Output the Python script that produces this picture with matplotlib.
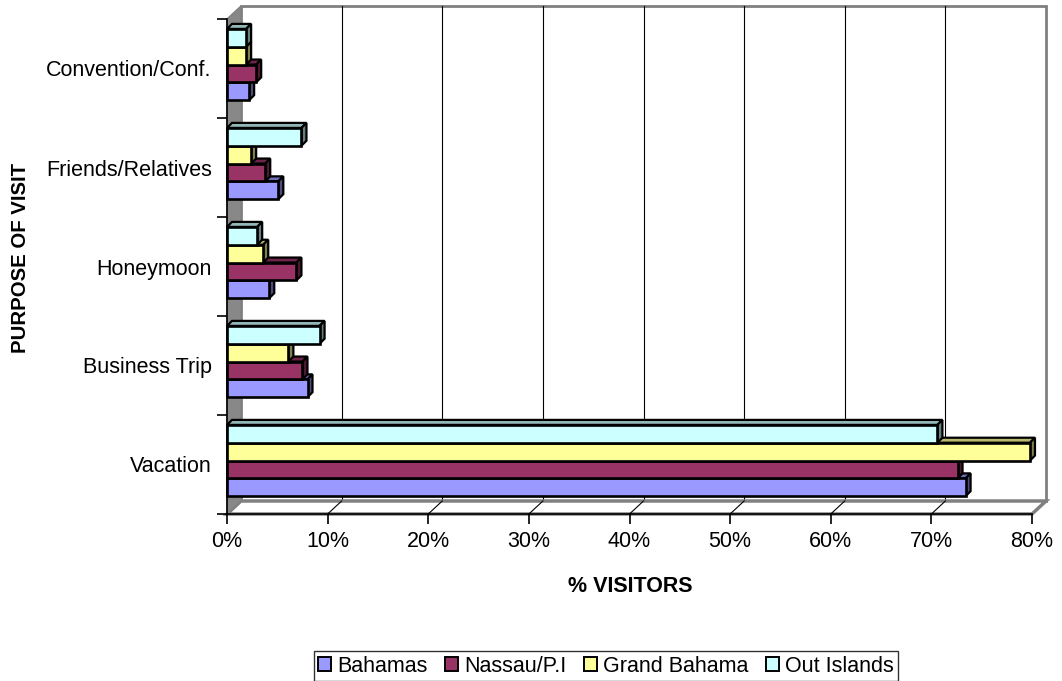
import numpy as np
import matplotlib.pyplot as plt
from matplotlib.patches import Polygon, Patch
from matplotlib.ticker import PercentFormatter

plt.rcParams['font.family'] = ['Liberation Sans', 'DejaVu Sans']

# purpose of visit, bottom to top
categories = ['Vacation', 'Business Trip', 'Honeymoon', 'Friends/Relatives', 'Convention/Conf.']
series = ['Bahamas', 'Nassau/P.I', 'Grand Bahama', 'Out Islands']

# share of visitors (fraction) per category for each destination
bahamas = [0.734, 0.080, 0.042, 0.051, 0.022]
nassau = [0.726, 0.075, 0.069, 0.038, 0.029]
grand_bahama = [0.798, 0.061, 0.036, 0.024, 0.019]
out_islands = [0.706, 0.092, 0.030, 0.074, 0.019]

values = [bahamas, nassau, grand_bahama, out_islands]
face_colors = ['#9999FF', '#993366', '#FFFF99', '#CCFFFF']

FS = 15.5
XMAX = 0.8
W, H = 1062, 681
fig = plt.figure(figsize=(W / 100, H / 100), dpi=100)
ax_l, ax_r, ax_b, ax_t = 227, 1032, 514, 19
ax = fig.add_axes([ax_l / W, 1 - ax_b / H, (ax_r - ax_l) / W, (ax_b - ax_t) / H])
ax.set_xlim(0, XMAX)
ax.set_ylim(-0.5, len(categories) - 0.5)

# pixel -> data conversions for the fake 3D depth
px_x = (ax_r - ax_l) / XMAX
px_y = (ax_b - ax_t) / len(categories)
wall_dx, wall_dy = 14 / px_x, 13 / px_y
bar_dx, bar_dy = 5 / px_x, 5 / px_y

y0, y1 = -0.5, len(categories) - 0.5

# back wall
ax.add_patch(Polygon([(wall_dx, y0 + wall_dy), (XMAX + wall_dx, y0 + wall_dy),
                      (XMAX + wall_dx, y1 + wall_dy), (wall_dx, y1 + wall_dy)],
                     closed=True, facecolor='white', edgecolor='#808080', lw=2,
                     clip_on=False, zorder=0))
for gx in np.arange(0.1, XMAX - 1e-9, 0.1):
    ax.plot([gx + wall_dx, gx + wall_dx], [y0 + wall_dy, y1 + wall_dy],
            color='black', lw=0.8, clip_on=False, zorder=0.5)

# floor
ax.add_patch(Polygon([(0, y0), (XMAX, y0), (XMAX + wall_dx, y0 + wall_dy), (wall_dx, y0 + wall_dy)],
                     closed=True, facecolor='white', edgecolor='#808080', lw=2.5,
                     clip_on=False, zorder=0.6))
for gx in np.arange(0.1, XMAX - 1e-9, 0.1):
    ax.plot([gx, gx + wall_dx], [y0, y0 + wall_dy], color='black', lw=0.8,
            clip_on=False, zorder=0.7)

# left wall
ax.add_patch(Polygon([(0, y0), (0, y1), (wall_dx, y1 + wall_dy), (wall_dx, y0 + wall_dy)],
                     closed=True, facecolor='#888888', edgecolor='#808080', lw=1,
                     clip_on=False, zorder=0.8))


def shade(hex_color, k):
    c = np.array([int(hex_color[i:i + 2], 16) for i in (1, 3, 5)]) / 255.0
    return tuple(c * k)


bar_h = 0.18
group_shift = 0.04
z = 2
for ci in range(len(categories)):
    base = ci + group_shift - 2 * bar_h
    for si, vals in enumerate(values):
        v = vals[ci]
        yb = base + si * bar_h
        yt = yb + bar_h
        col = face_colors[si]
        top = Polygon([(0, yt), (v, yt), (v + bar_dx, yt + bar_dy), (bar_dx, yt + bar_dy)],
                      closed=True, facecolor=shade(col, 0.72), edgecolor='black', lw=1.6, zorder=z)
        side = Polygon([(v, yb), (v + bar_dx, yb + bar_dy), (v + bar_dx, yt + bar_dy), (v, yt)],
                       closed=True, facecolor=shade(col, 0.5), edgecolor='black', lw=1.6, zorder=z)
        front = Polygon([(0, yb), (v, yb), (v, yt), (0, yt)],
                        closed=True, facecolor=col, edgecolor='black', lw=1.9, zorder=z + 0.1)
        for p in (top, side, front):
            p.set_clip_on(False)
            ax.add_patch(p)
        z += 1

# axes, ticks and labels
for s in ('top', 'right'):
    ax.spines[s].set_visible(False)
for s in ('left', 'bottom'):
    ax.spines[s].set_color('black')
    ax.spines[s].set_linewidth(1.2)
    ax.spines[s].set_zorder(50)
ax.patch.set_visible(False)

ax.set_xticks(np.arange(0, XMAX + 1e-9, 0.1))
ax.xaxis.set_major_formatter(PercentFormatter(1.0, decimals=0))
ax.tick_params(axis='x', direction='out', length=7, width=1.2, labelsize=FS, pad=5)

ax.set_yticks(np.arange(-0.5, len(categories), 1.0))
ax.set_yticklabels([])
ax.tick_params(axis='y', which='major', direction='out', length=7, width=1.2)
ax.set_yticks(np.arange(len(categories)), minor=True)
ax.set_yticklabels(categories, minor=True)
ax.tick_params(axis='y', which='minor', length=0, labelsize=FS, pad=11)

fig.text(630 / W, 1 - 586 / H, '% VISITORS', ha='center', va='center',
         fontsize=FS, fontweight='bold')
fig.text(21 / W, 1 - 258 / H, 'PURPOSE OF VISIT', ha='center', va='center',
         rotation=90, fontsize=14.7, fontweight='bold')

handles = [Patch(facecolor=c, edgecolor='black', lw=1.4) for c in face_colors]
leg = fig.legend(handles, series, loc='center', bbox_to_anchor=(606 / W, 1 - 666 / H),
                 ncol=4, fontsize=FS, frameon=True, fancybox=False, edgecolor='black',
                 handlelength=0.6, handleheight=0.6, handletextpad=0.3,
                 columnspacing=0.8, borderpad=0.2, borderaxespad=0)
leg.get_frame().set_linewidth(1.0)

fig.savefig('out.png', dpi=100)
